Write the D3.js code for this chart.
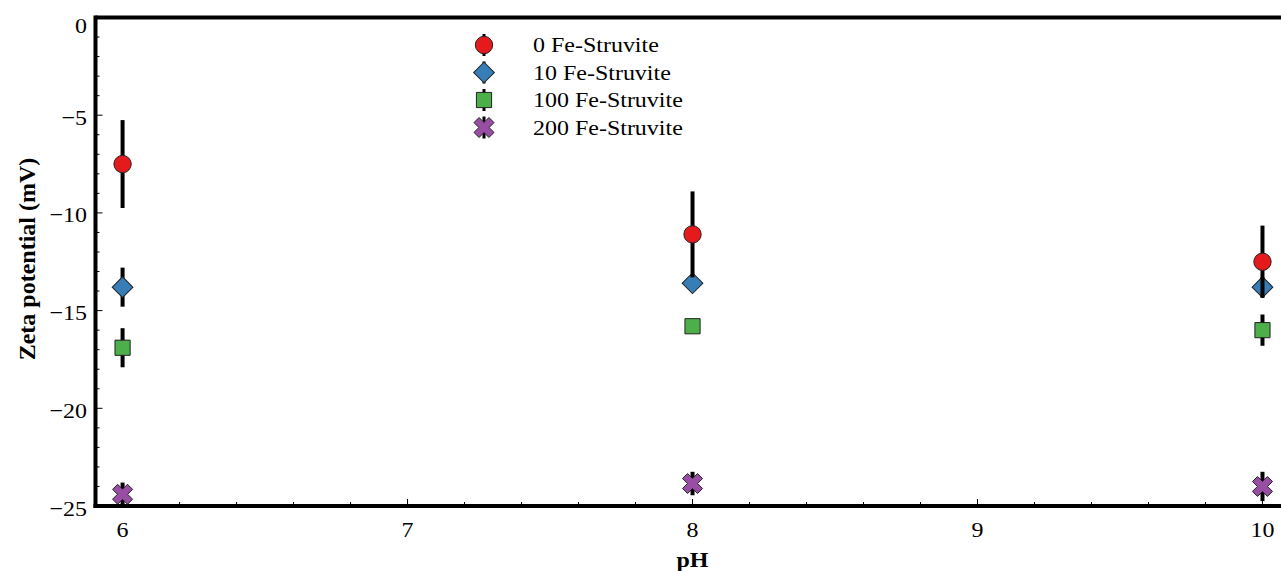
<!DOCTYPE html>
<html>
<head>
<meta charset="utf-8">
<script src="https://cdn.jsdelivr.net/npm/d3@7"></script>
<style>
  body { margin: 0; background: #fff; }
</style>
</head>
<body>
<div id="chart"></div>
<script>
const phValues = [6, 8, 10];
const seriesNames = ["0 Fe-Struvite", "10 Fe-Struvite", "100 Fe-Struvite", "200 Fe-Struvite"];
const seriesColors = ["#e41a1c", "#377eb8", "#4daf4a", "#984ea3"];
const seriesShapes = ["circle", "diamond", "square", "cross"];
const zeta0 = [-7.5, -11.1, -12.5];
const err0 = [2.25, 2.2, 1.85];
const zeta10 = [-13.8, -13.6, -13.8];
const err10 = [1.0, 0.3, 0.5];
const zeta100 = [-16.9, -15.8, -16.0];
const err100 = [1.0, 0.3, 0.8];
const zeta200 = [-24.4, -23.85, -24.0];
const err200 = [0.6, 0.6, 0.75];
const xTicks = [6, 7, 8, 9, 10];
const yTicks = [0, -5, -10, -15, -20, -25];

const allSeries = [
  { vals: zeta0, errs: err0 },
  { vals: zeta10, errs: err10 },
  { vals: zeta100, errs: err100 },
  { vals: zeta200, errs: err200 },
];

const W = 1281, H = 571;
const plotLeft = 95.5, plotTop = 17.5, plotBottom = 506;
const FONT = "'Liberation Serif', 'Times New Roman', serif";
const SX = 1.09; // text in the original is a bit wide

const svg = d3.select("#chart").append("svg").attr("width", W).attr("height", H);

const x = d3.scaleLinear().domain([5.905, 10.065]).range([plotLeft, W]);
const y = d3.scaleLinear().domain([0, -25]).range([plotTop, plotBottom]);

// thick X drawn as a polygon (plus shape turned 45 degrees)
const symbolThickX = {
  draw: function (ctx, size) {
    const r = Math.sqrt(size) * 0.72, a = r * 0.34;
    const pts = [[a, r], [-a, r], [-a, a], [-r, a], [-r, -a], [-a, -a], [-a, -r], [a, -r], [a, -a], [r, -a], [r, a], [a, a]];
    const c = Math.SQRT1_2;
    pts.forEach(function (p, i) {
      const px = (p[0] - p[1]) * c, py = (p[0] + p[1]) * c;
      if (i === 0) ctx.moveTo(px, py); else ctx.lineTo(px, py);
    });
    ctx.closePath();
  },
};

const symbolFor = {
  circle: d3.symbol().type(d3.symbolCircle).size(236),
  diamond: d3.symbol().type(d3.symbolSquare).size(215),
  square: d3.symbol().type(d3.symbolSquare).size(230),
  cross: d3.symbol().type(symbolThickX).size(215),
};
const rotFor = { circle: "", diamond: " rotate(45)", square: "", cross: "" };

// minor ticks
const xMinor = d3.range(6, 10.01, 0.2).filter(v => Math.abs(v - Math.round(v)) > 0.01);
svg.append("g").selectAll("line").data(xMinor).enter().append("line")
  .attr("x1", d => x(d)).attr("x2", d => x(d))
  .attr("y1", plotBottom).attr("y2", plotBottom - 4)
  .attr("stroke", "#000").attr("stroke-width", 1);
svg.append("g").selectAll("line").data(xTicks).enter().append("line")
  .attr("x1", d => x(d)).attr("x2", d => x(d))
  .attr("y1", plotBottom).attr("y2", plotBottom - 7)
  .attr("stroke", "#000").attr("stroke-width", 1);

const yMinor = d3.range(-24, 0, 1).filter(v => v % 5 !== 0);
svg.append("g").selectAll("line").data(yMinor).enter().append("line")
  .attr("x1", plotLeft).attr("x2", plotLeft + 4)
  .attr("y1", d => y(d)).attr("y2", d => y(d))
  .attr("stroke", "#000").attr("stroke-width", 1);
svg.append("g").selectAll("line").data(yTicks).enter().append("line")
  .attr("x1", plotLeft).attr("x2", plotLeft + 7)
  .attr("y1", d => y(d)).attr("y2", d => y(d))
  .attr("stroke", "#000").attr("stroke-width", 1);

// tick labels
svg.append("g").selectAll("text").data(xTicks).enter().append("text")
  .attr("transform", d => "translate(" + x(d) + ",537) scale(" + SX + ",1)")
  .attr("text-anchor", "middle").attr("font-size", 22).attr("font-family", FONT)
  .text(d => d);
svg.append("g").selectAll("text").data(yTicks).enter().append("text")
  .attr("transform", d => "translate(87," + (d === 0 ? 33 : y(d) + 9.5) + ") scale(" + SX + ",1)")
  .attr("text-anchor", "end").attr("font-size", 22).attr("font-family", FONT)
  .text(d => String(d).replace("-", "\u2212"));

// frame
svg.append("line").attr("x1", plotLeft).attr("x2", W).attr("y1", plotTop).attr("y2", plotTop)
  .attr("stroke", "#000").attr("stroke-width", 4);
svg.append("line").attr("x1", plotLeft).attr("x2", plotLeft).attr("y1", plotTop - 2).attr("y2", plotBottom + 2)
  .attr("stroke", "#000").attr("stroke-width", 4);
svg.append("line").attr("x1", plotLeft - 2).attr("x2", W).attr("y1", plotBottom).attr("y2", plotBottom)
  .attr("stroke", "#000").attr("stroke-width", 4);

// axis titles
svg.append("text").attr("transform", "translate(" + x(8) + ",567) scale(" + SX + ",1)").attr("font-family", FONT)
  .attr("text-anchor", "middle").attr("font-size", 22).attr("font-weight", "bold").text("pH");
svg.append("text").attr("transform", "translate(35,259) rotate(-90)").attr("font-family", FONT)
  .attr("text-anchor", "middle").attr("font-size", 24).attr("font-weight", "bold")
  .text("Zeta potential (mV)");

// data, drawn back to front
for (let s = allSeries.length - 1; s >= 0; s--) {
  const ser = allSeries[s];
  const g = svg.append("g");
  const pts = phValues.map((p, i) => ({ ph: p, v: ser.vals[i], e: ser.errs[i] }));
  g.selectAll("line").data(pts).enter().append("line")
    .attr("x1", d => x(d.ph)).attr("x2", d => x(d.ph))
    .attr("y1", d => y(d.v + d.e)).attr("y2", d => y(d.v - d.e))
    .attr("stroke", "#000").attr("stroke-width", 4);
  g.selectAll("path").data(pts).enter().append("path")
    .attr("d", symbolFor[seriesShapes[s]])
    .attr("transform", d => "translate(" + x(d.ph) + "," + y(d.v) + ")" + rotFor[seriesShapes[s]])
    .attr("fill", seriesColors[s])
    .attr("stroke", "#222")
    .attr("stroke-width", 1);
}

// legend
const legend = svg.append("g");
const legendRows = [45, 72.5, 100, 127.5];
seriesNames.forEach(function (name, i) {
  const ly = legendRows[i];
  legend.append("line").attr("x1", 484).attr("x2", 484).attr("y1", ly - 11).attr("y2", ly + 11)
    .attr("stroke", "#000").attr("stroke-width", 3);
  legend.append("path")
    .attr("d", symbolFor[seriesShapes[i]])
    .attr("transform", "translate(484," + ly + ")" + rotFor[seriesShapes[i]])
    .attr("fill", seriesColors[i])
    .attr("stroke", "#222")
    .attr("stroke-width", 1);
  legend.append("text").attr("transform", "translate(533," + (ly + 7) + ") scale(" + SX + ",1)")
    .attr("font-size", 22).attr("font-family", FONT).text(name);
});
</script>
</body>
</html>
